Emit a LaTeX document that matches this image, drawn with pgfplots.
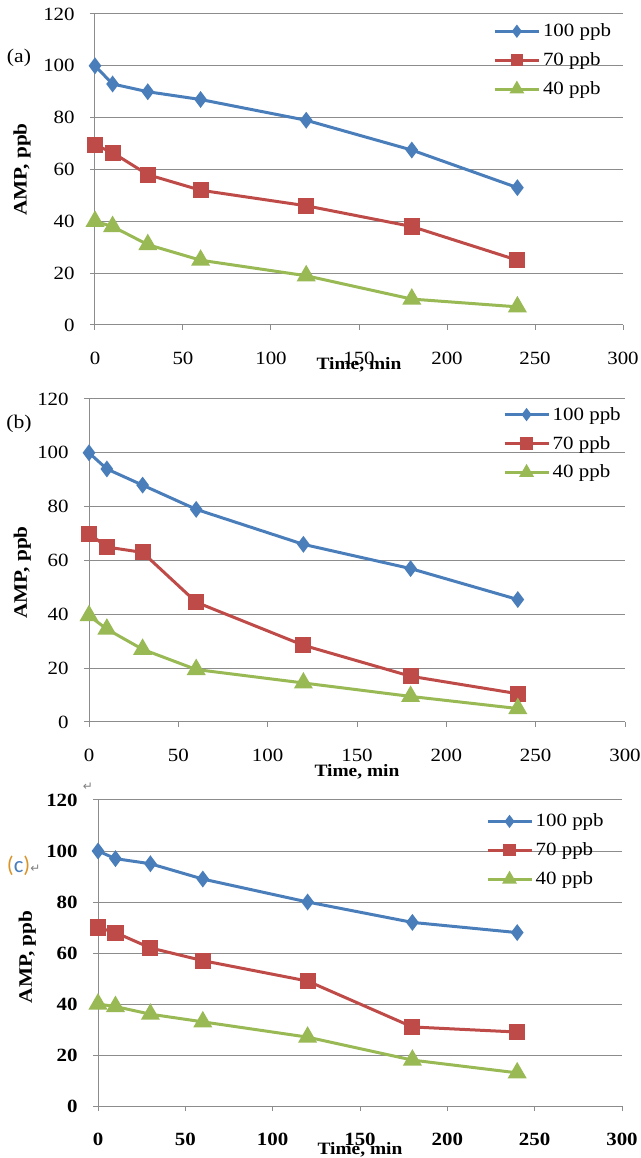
\documentclass[border=0pt]{standalone}
\usepackage{fontspec}
\setmainfont{Liberation Serif}[FakeStretch=1.12]
\newfontfamily\calib{Carlito}
\newfontfamily\dejavu{DejaVu Sans}
\usepackage{pgfplots}
\pgfplotsset{compat=1.18}
\definecolor{SerBlue}{HTML}{4A7EBB}
\definecolor{SerRed}{HTML}{BE4B48}
\definecolor{SerGreen}{HTML}{98B954}
\definecolor{GridGray}{HTML}{8C8C8C}
\definecolor{ParOrange}{HTML}{D9952B}

% 1 px of the reference = 0.75pt
\newcommand\tickfont{\fontsize{14pt}{15pt}\selectfont}
\newcommand\legfont{\fontsize{14pt}{15pt}\selectfont}
\newcommand\xlabfont{\fontsize{13pt}{14pt}\selectfont\bfseries}
\newcommand\ylabfont{\fontsize{14.25pt}{16pt}\selectfont\bfseries}
\newcommand\panfont{\fontsize{14.5pt}{16pt}\selectfont}

\pgfplotsset{
  panel/.style={
    scale only axis,
    xmin=0, xmax=300, ymin=0, ymax=120,
    xtick={0,50,...,300}, ytick={0,20,...,120},
    axis x line*=bottom, axis y line*=left,
    axis line style={-, draw=GridGray, line width=0.75pt},
    ymajorgrids, grid style={draw=GridGray, line width=0.75pt},
    tick align=outside, major tick length=3.75pt,
    tick style={draw=GridGray, line width=0.75pt},
    /pgf/number format/assume math mode=true,
    ticklabel style={font=\tickfont},
    xticklabel style={anchor=base, yshift=-26pt},
    yticklabel style={xshift=-8pt},
    legend style={draw=none, fill=none, font=\legfont, anchor=north west,
      inner sep=0pt, row sep=6.5pt},
    legend cell align=left,
    legend image code/.code={\draw[mark repeat=2,mark phase=2]
      plot coordinates {(0pt,0pt) (16.5pt,0pt) (33pt,0pt)};},
    legend image post style={mark options={scale=0.7}},
    every axis x label/.style={at={(axis description cs:0.5,0)}, anchor=base, font=\xlabfont},
    every axis y label/.style={at={(axis description cs:0,0.5)}, anchor=center, font=\ylabfont, rotate=90},
  },
  s100/.style={SerBlue, line width=2.25pt, mark=diamond*, mark size=4.5pt, mark options={solid}},
  s70/.style={SerRed, line width=2.25pt, mark=square*, mark size=4.9pt, mark options={solid}},
  s40/.style={SerGreen, line width=2.25pt, mark=triangle*, mark size=6pt, mark options={solid}},
}

\begin{document}
\begin{tikzpicture}
\useasboundingbox (0,0) rectangle (480pt,868.5pt);

% (a)
\begin{axis}[panel, at={(71.25pt,624.75pt)}, anchor=south west,
  width=396pt, height=233.25pt,
  xlabel={Time, min}, xlabel style={yshift=-33.75pt},
  ylabel={AMP, ppb}, ylabel style={yshift=54.75pt},
  legend style={at={(0.754,0.978)}}]
\addplot[s100] coordinates {(0,100) (10,93) (30,90) (60,87) (120,79) (180,67.5) (240,53)};
\addlegendentry{100 ppb}
\addplot[s70] coordinates {(0,69.5) (10,66.5) (30,58) (60,52) (120,46) (180,38) (240,25)};
\addlegendentry{70 ppb}
\addplot[s40] coordinates {(0,40) (10,38) (30,31) (60,25) (120,19) (180,10) (240,7)};
\addlegendentry{40 ppb}
\end{axis}

% (b)
\begin{axis}[panel, at={(66.75pt,327pt)}, anchor=south west,
  width=402pt, height=242.25pt,
  xlabel={Time, min}, xlabel style={yshift=-41pt},
  ylabel={AMP, ppb}, ylabel style={yshift=50pt, xshift=-9pt},
  legend style={at={(0.772,0.984)}}]
\addplot[s100] coordinates {(0,100) (10,94) (30,88) (60,79) (120,66) (180,57) (240,45.5)};
\addlegendentry{100 ppb}
\addplot[s70] coordinates {(0,70) (10,65) (30,63) (60,44.5) (120,28.5) (180,17) (240,10.5)};
\addlegendentry{70 ppb}
\addplot[s40] coordinates {(0,39.5) (10,34.5) (30,27) (60,19.5) (120,14.5) (180,9.5) (240,5)};
\addlegendentry{40 ppb}
\end{axis}

% (c)
\begin{axis}[panel, at={(73.5pt,39pt)}, anchor=south west,
  width=393pt, height=229.5pt,
  ticklabel style={font=\tickfont\bfseries},
  xlabel={Time, min}, xlabel style={yshift=-36pt},
  ylabel={AMP, ppb}, ylabel style={yshift=53pt, xshift=-3pt},
  legend style={at={(0.740,0.964)}}]
\addplot[s100] coordinates {(0,100) (10,97) (30,95) (60,89) (120,80) (180,72) (240,68)};
\addlegendentry{100 ppb}
\addplot[s70] coordinates {(0,70) (10,68) (30,62) (60,57) (120,49) (180,31) (240,29)};
\addlegendentry{70 ppb}
\addplot[s40] coordinates {(0,40) (10,39) (30,36) (60,33) (120,27) (180,18) (240,13)};
\addlegendentry{40 ppb}
\end{axis}

\node[font=\panfont] at (14.25pt,825pt) {(a)};
\node[font=\panfont] at (14.25pt,550.5pt) {(b)};
\node[inner sep=0pt, anchor=west] at (5pt,219pt)
  {{\calib\fontsize{17pt}{18pt}\selectfont\textcolor{ParOrange}{(}\textcolor{SerBlue}{c}\textcolor{ParOrange}{)}}{\dejavu\fontsize{9pt}{10pt}\selectfont\textcolor{gray}{↵}}};
\node[inner sep=0pt] at (66pt,278.5pt) {\dejavu\fontsize{9pt}{10pt}\selectfont\textcolor{gray}{↵}};
\end{tikzpicture}
\end{document}
